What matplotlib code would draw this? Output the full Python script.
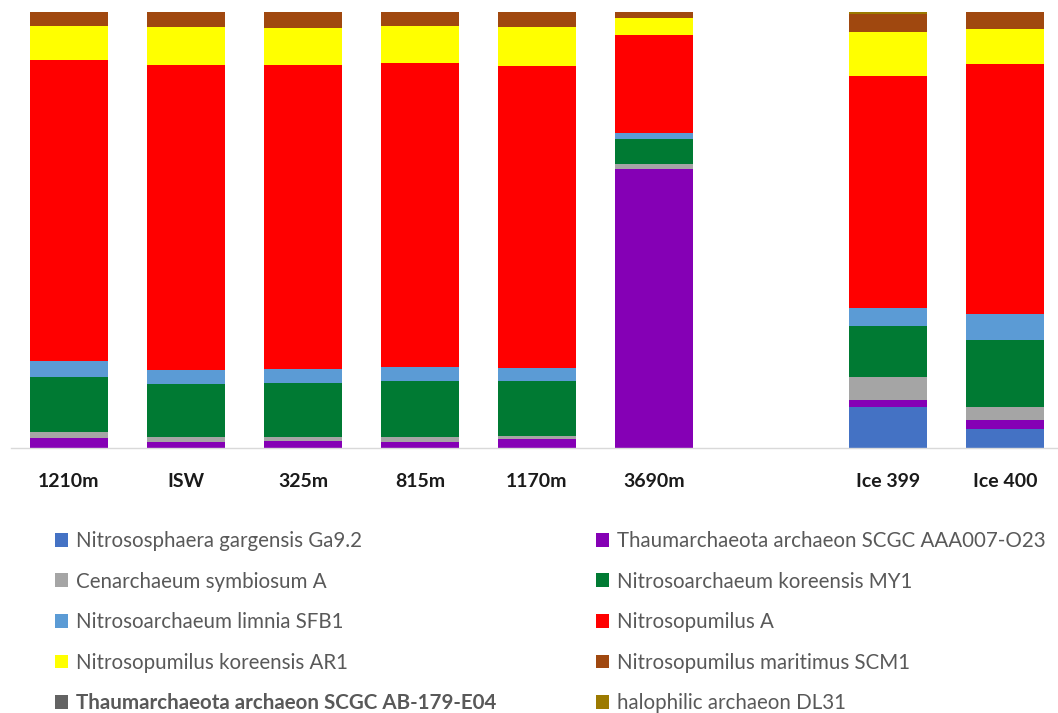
import numpy as np
import matplotlib
matplotlib.use('Agg')
import matplotlib.pyplot as plt
from matplotlib.patches import Patch

plt.rcParams['font.family'] = ['Lato', 'DejaVu Sans']

# Sample sites (an empty slot separates the water column from the ice cores)
sites = ['1210m', 'ISW', '325m', '815m', '1170m', '3690m', 'Ice 399', 'Ice 400']
positions = [0, 1, 2, 3, 4, 5, 7, 8]

# Relative abundance (%) per taxon, bottom to top of each stack
taxa = ['Nitrososphaera gargensis Ga9.2',
        'Thaumarchaeota archaeon SCGC AAA007-O23',
        'Cenarchaeum symbiosum A',
        'Nitrosoarchaeum koreensis MY1',
        'Nitrosoarchaeum limnia SFB1',
        'Nitrosopumilus A',
        'Nitrosopumilus koreensis AR1',
        'Nitrosopumilus maritimus SCM1',
        'Thaumarchaeota archaeon SCGC AB-179-E04',
        'halophilic archaeon DL31']

gargensis   = [0.0, 0.0, 0.0, 0.0, 0.0, 0.0, 9.3, 4.4]
aaa007      = [2.2, 1.4, 1.7, 1.4, 2.0, 64.1, 1.8, 2.1]
cenarchaeum = [1.4, 1.1, 0.8, 1.1, 0.8, 1.1, 5.2, 2.8]
my1         = [12.8, 12.2, 12.5, 12.8, 12.5, 5.8, 11.7, 15.4]
limnia      = [3.6, 3.1, 3.1, 3.3, 3.1, 1.4, 4.1, 6.0]
nitro_a     = [69.0, 70.1, 69.8, 69.7, 69.3, 22.4, 53.3, 57.5]
ar1         = [7.8, 8.8, 8.6, 8.6, 8.9, 3.9, 10.2, 7.9]
scm1        = [3.2, 3.4, 3.5, 3.2, 3.5, 1.3, 4.1, 3.9]
ab179       = [0.0, 0.0, 0.0, 0.0, 0.0, 0.0, 0.0, 0.0]
dl31        = [0.0, 0.0, 0.0, 0.0, 0.0, 0.0, 0.3, 0.1]

series = [gargensis, aaa007, cenarchaeum, my1, limnia,
          nitro_a, ar1, scm1, ab179, dl31]
colors = ['#4472C4', '#8500B5', '#A5A5A5', '#007A33', '#5B9BD5',
          '#FF0000', '#FFFF00', '#A0480F', '#636363', '#9C7A00']

fig = plt.figure(figsize=(10.58, 7.13), dpi=100)
ax = fig.add_axes([10.5/1058, 265/713, 1053/1058, 436/713])

bottom = np.zeros(len(sites))
for vals, col in zip(series, colors):
    vals = np.array(vals)
    ax.bar(positions, vals, width=0.667, bottom=bottom, color=col,
           linewidth=0)
    bottom += vals

ax.set_xlim(-0.5, 8.5)
ax.set_ylim(0, bottom.max())
ax.set_yticks([])
ax.set_xticks(positions)
ax.set_xticklabels(sites, fontsize=14, fontweight='bold', color='#1a1a1a')
ax.tick_params(axis='x', length=0, pad=18)
for side in ['top', 'left', 'right']:
    ax.spines[side].set_visible(False)
ax.spines['bottom'].set_color('#D9D9D9')
ax.spines['bottom'].set_linewidth(1.0)

# Legend in two columns, filled row by row
handles = [Patch(facecolor=c, edgecolor='none') for c in colors]
left_idx = [0, 2, 4, 6, 8]
right_idx = [1, 3, 5, 7, 9]
for idx, x0 in [(left_idx, 55/1058), (right_idx, 596/1058)]:
    leg = fig.legend([handles[i] for i in idx], [taxa[i] for i in idx],
                     loc='upper left', bbox_to_anchor=(x0, 1 - 531/713),
                     frameon=False, fontsize=14.8, labelcolor='#595959',
                     handlelength=0.65, handleheight=0.65,
                     handletextpad=0.35, labelspacing=1.0,
                     borderaxespad=0, borderpad=0)
    if idx is left_idx:
        leg.get_texts()[4].set_fontweight('bold')

fig.savefig('out.png', dpi=100)
